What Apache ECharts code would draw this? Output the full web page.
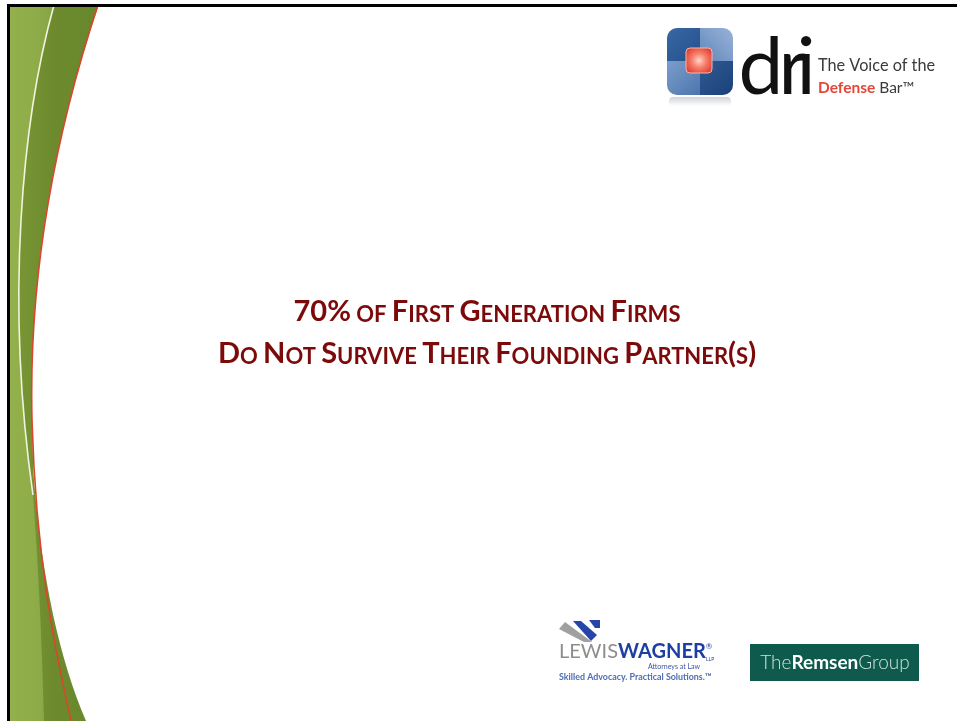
<!DOCTYPE html>
<html>
<head>
<meta charset="utf-8">
<script src="https://cdn.jsdelivr.net/npm/echarts@6/dist/echarts.min.js"></script>
<style>
html, body { margin: 0; padding: 0; background: #fff; }
#slide { width: 957px; height: 721px; }
</style>
</head>
<body>
<div id="slide"></div>
<script>
// slide text
const titleLines = ['70% of First Generation Firms', 'Do Not Survive Their Founding Partner(s)'];
const driLetters = ['d', 'r', 'i'];
const driTagline = ['The Voice of the', 'Defense', ' Bar™'];
const lewisWords = ['LEWIS', 'WAGNER'];
const lewisSub = ['Attorneys at Law', 'Skilled Advocacy. Practical Solutions.™'];
const remsenWords = ['The', 'Remsen', 'Group'];

const maroon = '#7d0a0a';

// "Firms" -> F big + IRMS small caps, as rich text runs
function smallCaps(str) {
  let out = '', cur = '', style = '';
  for (const ch of str) {
    let st = (ch >= 'a' && ch <= 'z') || ch === ' ' ? 's' : 'b';
    if (st !== style && cur) { out += '{' + style + '|' + cur + '}'; cur = ''; }
    style = st;
    cur += st === 's' ? ch.toUpperCase() : ch;
  }
  if (cur) out += '{' + style + '|' + cur + '}';
  return out;
}

const titleRich = {
  b: { fontFamily: 'Lato', fontWeight: 'bold', fontSize: 29, fill: maroon, lineHeight: 22.4, verticalAlign: 'bottom' },
  s: { fontFamily: 'Lato', fontWeight: 'bold', fontSize: 22, fill: maroon, lineHeight: 17, verticalAlign: 'bottom' }
};

// left green swoosh
const redCurve = 'M98 5 C60 120 28 260 32 420 C36 560 55 650 71 721';
const darkShape = 'M10 7 L98 7 C60 120 28 260 32 420 C33 450 33 470 34 480 C42 580 60 660 86 721 L10 721 Z';
const lightShape = 'M10 7 L54 7 C22 120 5 300 33 495 C38 560 42 640 44 721 L10 721 Z';
const whiteCurve = 'M54 5 C22 120 5 300 33 495';

echarts.graphic.registerShape('swDark', echarts.graphic.extendPath(darkShape, {}));
echarts.graphic.registerShape('swLight', echarts.graphic.extendPath(lightShape, {}));
echarts.graphic.registerShape('swWhite', echarts.graphic.extendPath(whiteCurve, {}));
echarts.graphic.registerShape('swRed', echarts.graphic.extendPath(redCurve, {}));

function lin(x, y, x2, y2, stops) {
  return new echarts.graphic.LinearGradient(x, y, x2, y2, stops.map((c, i) => ({ offset: i / (stops.length - 1), color: c })));
}

const chart = echarts.init(document.getElementById('slide'));

const elements = [
  { type: 'rect', shape: { x: 0, y: 0, width: 957, height: 721 }, style: { fill: '#fff' } },
  // swoosh
  { type: 'swDark', style: { fill: lin(0, 0, 1, 0, ['#7a9835', '#6d8b2e', '#68862b']) } },
  { type: 'swLight', style: { fill: lin(0, 0, 1, 0, ['#93b04c', '#8fad49', '#86a443']) } },
  { type: 'swWhite', style: { fill: null, stroke: 'rgba(245,248,230,0.95)', lineWidth: 1.6 } },
  { type: 'swRed', style: { fill: null, stroke: '#d9472c', lineWidth: 1.6 } },
  // slide border
  { type: 'rect', shape: { x: 7, y: 4, width: 950, height: 3 }, style: { fill: '#000' } },
  { type: 'rect', shape: { x: 7, y: 4, width: 3, height: 717 }, style: { fill: '#000' } },

  // title
  { type: 'text', x: 487, y: 315, style: { text: smallCaps(titleLines[0]), rich: titleRich, align: 'center', verticalAlign: 'middle' } },
  { type: 'text', x: 487, y: 357, style: { text: smallCaps(titleLines[1]), rich: titleRich, align: 'center', verticalAlign: 'middle' } },

  // dri logo
  { type: 'rect', shape: { x: 669, y: 97, width: 62, height: 9, r: 4 }, style: { fill: lin(0, 0, 0, 1, ['rgba(90,100,120,0.28)', 'rgba(90,100,120,0)']) } },
  { type: 'rect', shape: { x: 667, y: 28, width: 33, height: 33, r: [10, 0, 0, 0] }, style: { fill: lin(0, 0, 1, 1, ['#3a68a3', '#22508c']) } },
  { type: 'rect', shape: { x: 700, y: 28, width: 33, height: 33, r: [0, 10, 0, 0] }, style: { fill: lin(1, 0, 0, 1, ['#9ab3d8', '#5f86bb']) } },
  { type: 'rect', shape: { x: 667, y: 61, width: 33, height: 34, r: [0, 0, 0, 10] }, style: { fill: lin(0, 0, 1, 1, ['#7b9dcb', '#4d76ae']) } },
  { type: 'rect', shape: { x: 700, y: 61, width: 33, height: 34, r: [0, 0, 10, 0] }, style: { fill: lin(0, 0, 1, 1, ['#2f5b96', '#1b4078']) } },
  { type: 'rect', shape: { x: 686, y: 48, width: 26, height: 25, r: 4 }, style: {
      fill: new echarts.graphic.RadialGradient(0.5, 0.5, 0.6, [
        { offset: 0, color: '#ffd6cc' }, { offset: 0.45, color: '#f7806c' }, { offset: 1, color: '#df3d31' }]),
      stroke: '#f3b8ad', lineWidth: 1 } },
  { type: 'text', x: 761, y: 68, style: { text: driLetters[0], fontFamily: 'Lato', fontSize: 80, fill: '#111', align: 'center', verticalAlign: 'middle' } },
  { type: 'text', x: 793, y: 68, style: { text: driLetters[1], fontFamily: 'Lato', fontSize: 80, fill: '#111', align: 'center', verticalAlign: 'middle' } },
  { type: 'text', x: 806, y: 68, style: { text: driLetters[2], fontFamily: 'Lato', fontSize: 80, fill: '#111', align: 'center', verticalAlign: 'middle' } },
  { type: 'text', x: 818, y: 66, style: { text: driTagline[0], fontFamily: 'Lato', fontSize: 16.3, fill: '#3a3a3a', align: 'left', verticalAlign: 'middle' } },
  { type: 'text', x: 818, y: 88, style: {
      text: '{r|' + driTagline[1] + '}{k|' + driTagline[2] + '}', align: 'left', verticalAlign: 'middle',
      rich: {
        r: { fontFamily: 'Lato', fontWeight: 'bold', fontSize: 15.5, fill: '#e2483a' },
        k: { fontFamily: 'Lato', fontSize: 15.5, fill: '#3a3a3a' }
      } } },

  // Lewis Wagner logo
  { type: 'polygon', shape: { points: [[559, 629], [565, 622], [592, 642], [584, 642]] }, style: { fill: '#a0a0a0' } },
  { type: 'polygon', shape: { points: [[573, 621], [581, 621], [597, 635], [591, 641]] }, style: { fill: '#2545a8' } },
  { type: 'polygon', shape: { points: [[589, 620], [600, 620], [600, 628], [595, 628]] }, style: { fill: '#2545a8' } },
  { type: 'text', x: 559, y: 652, style: {
      text: '{g|' + lewisWords[0] + '}{w|' + lewisWords[1] + '}{t|®}', align: 'left', verticalAlign: 'middle',
      rich: {
        g: { fontFamily: 'Lato', fontSize: 20, fill: '#8d8d8d' },
        w: { fontFamily: 'Lato', fontWeight: 'bold', fontSize: 20, fill: '#1d3ea3' },
        t: { fontFamily: 'Lato', fontSize: 8, fill: '#1d3ea3', verticalAlign: 'top' }
      } } },
  { type: 'text', x: 706, y: 659, style: { text: 'LLP', fontFamily: 'Lato', fontSize: 5, fill: '#1d3ea3', align: 'left', verticalAlign: 'middle' } },
  { type: 'text', x: 700, y: 667, style: { text: lewisSub[0], fontFamily: 'Lato', fontSize: 7, fill: '#3d55a5', align: 'right', verticalAlign: 'middle' } },
  { type: 'text', x: 559, y: 677, style: { text: lewisSub[1], fontFamily: 'Lato', fontWeight: 'bold', fontSize: 8.9, fill: '#4d6db5', align: 'left', verticalAlign: 'middle' } },

  // Remsen Group logo
  { type: 'rect', shape: { x: 750, y: 644, width: 169, height: 37 }, style: { fill: '#0e5b4d' } },
  { type: 'text', x: 835, y: 663, style: {
      text: '{l|' + remsenWords[0] + '}{b|' + remsenWords[1] + '}{l|' + remsenWords[2] + '}', align: 'center', verticalAlign: 'middle',
      rich: {
        l: { fontFamily: 'Lato', fontWeight: 300, fontSize: 19, fill: '#cfe2dc' },
        b: { fontFamily: 'Lato', fontWeight: 'bold', fontSize: 19, fill: '#ffffff' }
      } } }
];

chart.setOption({
  animation: false,
  graphic: { elements: elements }
});
</script>
</body>
</html>
